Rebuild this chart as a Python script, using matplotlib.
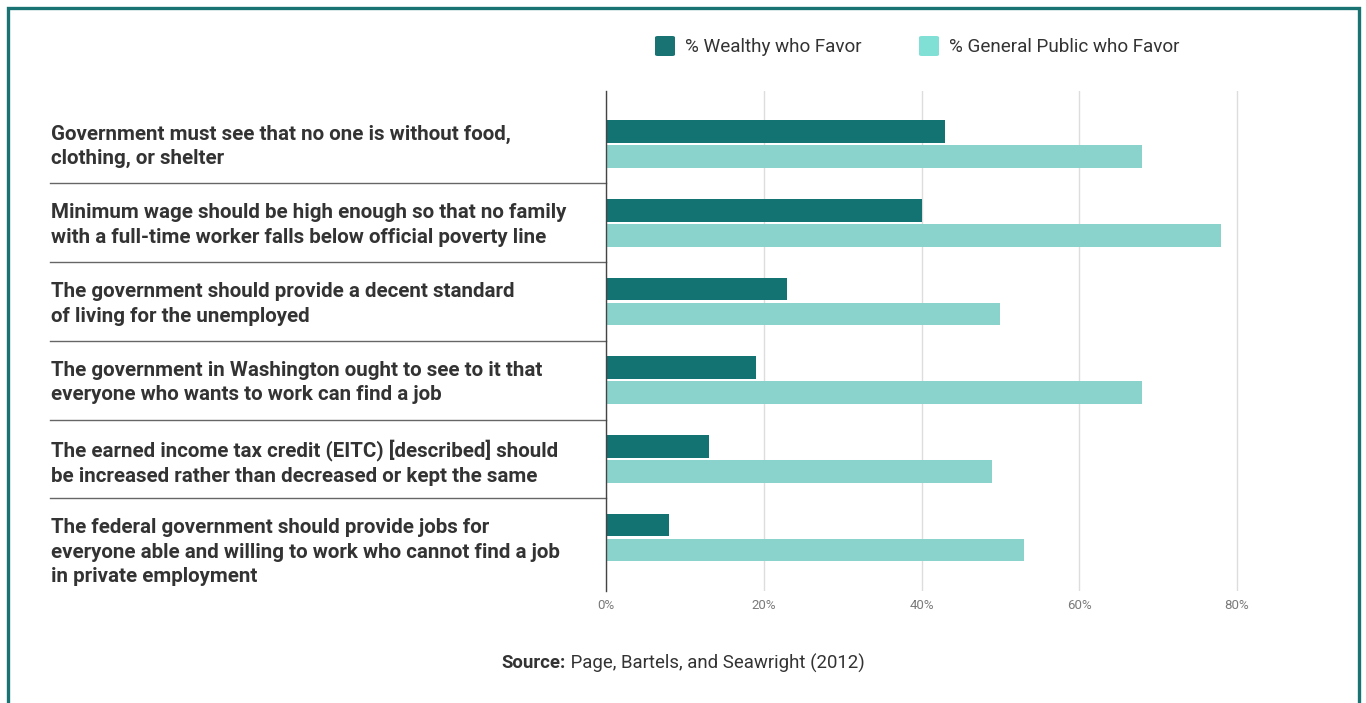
import matplotlib
matplotlib.use("Agg")
import matplotlib.pyplot as plt
from matplotlib.patches import FancyBboxPatch, Rectangle
from matplotlib.transforms import blended_transform_factory
import numpy as np

plt.rcParams['font.family'] = ['Roboto', 'DejaVu Sans']

categories = [
    "Government must see that no one is without food,\nclothing, or shelter",
    "Minimum wage should be high enough so that no family\nwith a full-time worker falls below official poverty line",
    "The government should provide a decent standard\nof living for the unemployed",
    "The government in Washington ought to see to it that\neveryone who wants to work can find a job",
    "The earned income tax credit (EITC) [described] should\nbe increased rather than decreased or kept the same",
    "The federal government should provide jobs for\neveryone able and willing to work who cannot find a job\nin private employment",
]
wealthy = [43, 40, 23, 19, 13, 8]
public = [68, 78, 50, 68, 49, 53]
series_names = ["% Wealthy who Favor", "% General Public who Favor"]
xticks = [0, 20, 40, 60, 80]
xticklabels = ["0%", "20%", "40%", "60%", "80%"]
source_bold = "Source:"
source_rest = " Page, Bartels, and Seawright (2012)"

W, H = 1366, 703
fig = plt.figure(figsize=(W / 100, H / 100), dpi=100)
fig.patch.set_facecolor("white")

def fx(px):
    return px / W

def fy(py):
    return 1 - py / H

ax_left, ax_top, ax_bot = 606, 91, 591
px_per_unit = (1237 - 606) / 80.0
xmax = 80.6
ax_right = ax_left + xmax * px_per_unit
ax = fig.add_axes([fx(ax_left), fy(ax_bot), (ax_right - ax_left) / W, (ax_bot - ax_top) / H])

dark = "#137272"
light = "#8AD3CC"
y = np.arange(len(categories))
bh = 0.29
off = 0.159
ax.barh(y - off, wealthy, height=bh, color=dark, zorder=3)
ax.barh(y + off, public, height=bh, color=light, zorder=3)

ax.set_xlim(0, xmax)
ax.set_ylim(5.679, -0.674)
ax.set_xticks(xticks)
ax.set_xticklabels(xticklabels, color="#7a7a7a", fontsize=9.5)
ax.tick_params(axis="x", length=0, pad=6)
ax.set_yticks([])
for s in ["top", "right", "bottom"]:
    ax.spines[s].set_visible(False)
ax.spines["left"].set_color("#444444")
ax.spines["left"].set_linewidth(1.0)
ax.spines["left"].set_zorder(4)
ax.grid(axis="x", color="#dddddd", linewidth=1, zorder=0)
ax.set_axisbelow(True)

trans = blended_transform_factory(ax.transAxes, ax.transData)
x_lab = (51 - ax_left) / (ax_right - ax_left)
x_sep = (50 - ax_left) / (ax_right - ax_left)
for i, cat in enumerate(categories):
    ax.text(x_lab, i - 0.245, cat, transform=trans, ha="left", va="top",
            fontsize=14.8, fontweight="bold", color="#333333", linespacing=1.36)
    if i < len(categories) - 1:
        ax.plot([x_sep, 0], [i + 0.5, i + 0.5], transform=trans, color="#666666",
                linewidth=1.0, clip_on=False, zorder=4)

# Legend (manual)
leg_colors = ["#1A7373", "#80E0D5"]
sw_x = [655, 919]
for name, c, sx in zip(series_names, leg_colors, sw_x):
    p = FancyBboxPatch((fx(sx), fy(56)), fx(20), 20 / H,
                       boxstyle="round,pad=0,rounding_size=0.002",
                       transform=fig.transFigure, facecolor=c, edgecolor="none")
    fig.patches.append(p)
    fig.text(fx(sx + 30), fy(47), name, ha="left", va="center", fontsize=13.6,
             color="#333333")

# Source
fig.canvas.draw()
r = fig.canvas.get_renderer()
t1 = fig.text(0, fy(663), source_bold, ha="left", va="center", fontsize=13.4,
              fontweight="bold", color="#333333")
t2 = fig.text(0, fy(663), source_rest, ha="left", va="center", fontsize=13.4,
              color="#333333")
w1 = t1.get_window_extent(r).width
w2 = t2.get_window_extent(r).width
start = 683 - (w1 + w2) / 2
t1.set_x(fx(start))
t2.set_x(fx(start + w1))

# Border
border = Rectangle((fx(7.5), -0.05), fx(1358.5 - 7.5), fy(8) + 0.05, transform=fig.transFigure,
                   fill=False, edgecolor="#1A7373", linewidth=2.4)
fig.patches.append(border)

fig.savefig("out.png", dpi=100, facecolor="white")
